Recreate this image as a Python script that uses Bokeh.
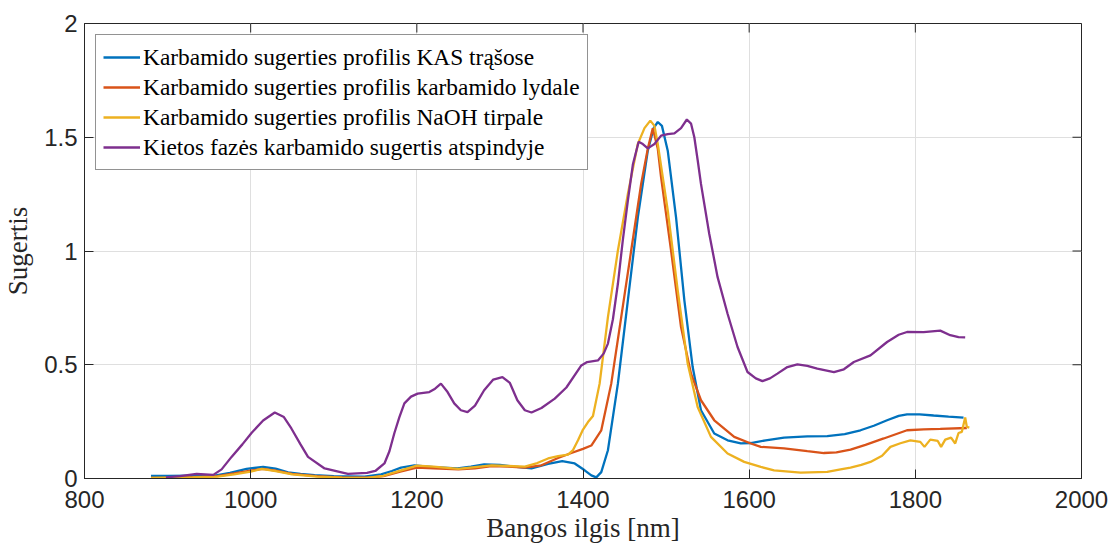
import math
from bokeh.plotting import figure
from bokeh.models import FixedTicker, NumeralTickFormatter, Legend, LegendItem, Range1d
from bokeh.embed import file_html
from bokeh.resources import INLINE

# ---- data ----
kas_x = [880, 900, 930, 955, 975, 995, 1015, 1030, 1045, 1060, 1077, 1100, 1137, 1157,
         1170, 1181, 1197, 1220, 1249, 1265, 1281, 1300, 1317, 1338, 1358, 1375, 1390,
         1402, 1410, 1416, 1422, 1430, 1442, 1454, 1466, 1478, 1485, 1490, 1495, 1502,
         1512, 1522, 1532, 1542, 1558, 1574, 1590, 1602, 1620, 1642, 1670, 1694, 1715,
         1734, 1750, 1766, 1780, 1790, 1805, 1822, 1840, 1858]
kas_y = [0.011, 0.011, 0.012, 0.012, 0.025, 0.042, 0.051, 0.043, 0.027, 0.02, 0.015, 0.01,
         0.008, 0.018, 0.033, 0.048, 0.058, 0.05, 0.044, 0.052, 0.062, 0.06, 0.052, 0.045,
         0.064, 0.076, 0.066, 0.036, 0.014, 0.005, 0.028, 0.124, 0.417, 0.783, 1.148,
         1.441, 1.54, 1.567, 1.55, 1.441, 1.148, 0.783, 0.49, 0.30, 0.198, 0.168, 0.154,
         0.156, 0.168, 0.18, 0.185, 0.186, 0.195, 0.212, 0.232, 0.256, 0.275, 0.282,
         0.282, 0.277, 0.272, 0.268]

melt_x = [880, 900, 930, 960, 980, 1000, 1015, 1030, 1050, 1080, 1110, 1140, 1160, 1180,
          1200, 1220, 1250, 1270, 1290, 1310, 1330, 1350, 1370, 1386, 1400, 1410, 1422,
          1434, 1446, 1458, 1470, 1478, 1484, 1490, 1494, 1506, 1518, 1530, 1542, 1558,
          1582, 1602, 1614, 1642, 1670, 1690, 1705, 1722, 1740, 1762, 1790, 1810, 1830,
          1862]
melt_y = [0.003, 0.004, 0.006, 0.01, 0.022, 0.035, 0.042, 0.035, 0.02, 0.01, 0.005, 0.004,
          0.01, 0.03, 0.048, 0.045, 0.04, 0.045, 0.055, 0.052, 0.048, 0.058, 0.09, 0.112,
          0.13, 0.145, 0.212, 0.417, 0.709, 1.002, 1.295, 1.45, 1.54, 1.45, 1.324, 1.002,
          0.666, 0.461, 0.344, 0.256, 0.183, 0.154, 0.139, 0.132, 0.12, 0.112, 0.115,
          0.127, 0.148, 0.176, 0.212, 0.216, 0.218, 0.222]

naoh_x = [880, 900, 930, 960, 980, 1000, 1013, 1030, 1050, 1080, 1110, 1140, 1160, 1180,
          1200, 1220, 1250, 1270, 1290, 1310, 1330, 1345, 1358, 1370, 1382, 1388, 1394,
          1400, 1406, 1412, 1420, 1430, 1442, 1454, 1466, 1474, 1481, 1486, 1490, 1502,
          1514, 1526, 1538, 1554, 1574, 1594, 1614, 1630, 1662, 1694, 1710, 1722, 1735,
          1746, 1760, 1770, 1782, 1794, 1806, 1811, 1818, 1827, 1831, 1836, 1843, 1848,
          1852, 1856, 1860, 1862, 1865]
naoh_y = [0.003, 0.004, 0.005, 0.008, 0.018, 0.03, 0.042, 0.032, 0.018, 0.008, 0.004, 0.003,
          0.012, 0.035, 0.057, 0.052, 0.042, 0.05, 0.058, 0.055, 0.052, 0.068, 0.088, 0.098,
          0.105, 0.125, 0.168, 0.215, 0.248, 0.275, 0.417, 0.709, 1.002, 1.251, 1.471,
          1.54, 1.573, 1.55, 1.471, 1.178, 0.827, 0.505, 0.314, 0.183, 0.11, 0.073, 0.051,
          0.036, 0.026, 0.029, 0.04, 0.048, 0.06, 0.073, 0.1, 0.139, 0.155, 0.168, 0.161,
          0.139, 0.171, 0.165, 0.139, 0.171, 0.18, 0.154, 0.2, 0.205, 0.268, 0.227, 0.224]

solid_x = [898, 915, 935, 955, 965, 977, 990, 1001, 1015, 1029, 1040, 1049, 1060, 1069,
           1089, 1117, 1140, 1150, 1161, 1167, 1173, 1179, 1185, 1193, 1201, 1215, 1222,
           1229, 1237, 1245, 1253, 1261, 1270, 1281, 1292, 1303, 1312, 1321, 1330, 1338,
           1350, 1366, 1380, 1398, 1405, 1418, 1425, 1430, 1436, 1442, 1448, 1454, 1460,
           1467, 1472, 1478, 1486, 1494, 1502, 1510, 1518, 1525, 1530, 1534, 1538, 1542,
           1552, 1562, 1574, 1586, 1598, 1608, 1616, 1625, 1634, 1646, 1658, 1670, 1682,
           1702, 1714, 1726, 1746, 1766, 1780, 1790, 1810, 1830, 1842, 1852, 1860]
solid_y = [0.005, 0.01, 0.02, 0.016, 0.04, 0.095, 0.15, 0.2, 0.255, 0.29, 0.27, 0.22, 0.15,
           0.095, 0.044, 0.02, 0.025, 0.033, 0.066, 0.12, 0.2, 0.27, 0.33, 0.36, 0.373,
           0.38, 0.395, 0.417, 0.38, 0.33, 0.3, 0.292, 0.32, 0.388, 0.435, 0.446, 0.42,
           0.344, 0.3, 0.29, 0.31, 0.351, 0.4, 0.497, 0.512, 0.519, 0.55, 0.593, 0.7,
           0.856, 1.05, 1.222, 1.38, 1.48, 1.47, 1.451, 1.47, 1.507, 1.514, 1.517, 1.54,
           1.578, 1.56, 1.50, 1.4, 1.295, 1.075, 0.885, 0.724, 0.578, 0.468, 0.44, 0.428,
           0.44, 0.461, 0.49, 0.502, 0.495, 0.483, 0.468, 0.48, 0.512, 0.541, 0.6, 0.632,
           0.644, 0.643, 0.65, 0.63, 0.621, 0.62]

x_ticks = [800, 1000, 1200, 1400, 1600, 1800, 2000]
y_ticks = [0, 0.5, 1, 1.5, 2]
labels = ["Karbamido sugerties profilis KAS trąšose",
          "Karbamido sugerties profilis karbamido lydale",
          "Karbamido sugerties profilis NaOH tirpale",
          "Kietos fazės karbamido sugertis atspindyje"]
colors = ["#0072BD", "#D95319", "#EDB120", "#7E2F8E"]

AX = "#262626"
p = figure(width=1111, height=550, output_backend="svg", toolbar_location=None,
           x_range=Range1d(x_ticks[0], x_ticks[-1]), y_range=Range1d(y_ticks[0], y_ticks[-1]),
           min_border_left=83, min_border_right=30, min_border_top=23,
           min_border_bottom=72)
p.outline_line_color = AX
p.outline_line_width = 1
p.background_fill_color = "white"
p.border_fill_color = "white"

for g in (p.xgrid[0], p.ygrid[0]):
    g.grid_line_color = "#dfdfdf"
    g.grid_line_width = 1
p.xgrid[0].ticker = FixedTicker(ticks=x_ticks)
p.ygrid[0].ticker = FixedTicker(ticks=y_ticks)

# MATLAB-style inward ticks on the top and right edges of the box
p.ray(x=x_ticks, y=[y_ticks[-1]] * len(x_ticks), length=9, length_units="screen",
      angle=-math.pi / 2, line_color=AX, line_width=1)
p.ray(x=[x_ticks[-1]] * len(y_ticks), y=y_ticks, length=9, length_units="screen",
      angle=math.pi, line_color=AX, line_width=1)

series = [(kas_x, kas_y), (melt_x, melt_y), (naoh_x, naoh_y), (solid_x, solid_y)]
rends = []
for (xs, ys), c in zip(series, colors):
    rends.append(p.line(xs, ys, line_color=c, line_width=2.3))

def style_axis(ax, ticks):
    ax.ticker = FixedTicker(ticks=ticks)
    ax.axis_line_color = AX
    ax.axis_line_width = 1
    ax.major_tick_line_color = AX
    ax.major_tick_in = 9
    ax.major_tick_out = 0
    ax.minor_tick_line_color = None
    ax.major_label_text_font = "Liberation Sans"
    ax.major_label_text_font_size = "24px"
    ax.major_label_text_color = AX
    ax.axis_label_text_font = "Liberation Serif"
    ax.axis_label_text_font_size = "27px"
    ax.axis_label_text_font_style = "normal"
    ax.axis_label_text_color = AX

xa = p.xaxis[0]
ya = p.yaxis[0]
style_axis(xa, x_ticks)
style_axis(ya, y_ticks)
xa.axis_label = "Bangos ilgis [nm]"
ya.axis_label = "Sugertis"
ya.formatter = NumeralTickFormatter(format="0.[0]")
xa.major_label_standoff = 12
xa.axis_label_standoff = 2
ya.major_label_standoff = 7
ya.axis_label_standoff = 8

legend = Legend(items=[LegendItem(label=l, renderers=[r]) for l, r in zip(labels, rends)],
                location="top_left")
legend.margin = 11
legend.padding = 7
legend.spacing = 0
legend.glyph_width = 37
legend.glyph_height = 30
legend.label_height = 30
legend.label_standoff = 3
legend.label_text_font = "Liberation Serif"
legend.label_text_font_size = "23.4px"
legend.label_text_color = "black"
legend.border_line_color = AX
legend.border_line_width = 1
legend.background_fill_color = "white"
legend.background_fill_alpha = 1
p.add_layout(legend)

open("out.html", "w").write(file_html(p, INLINE))
